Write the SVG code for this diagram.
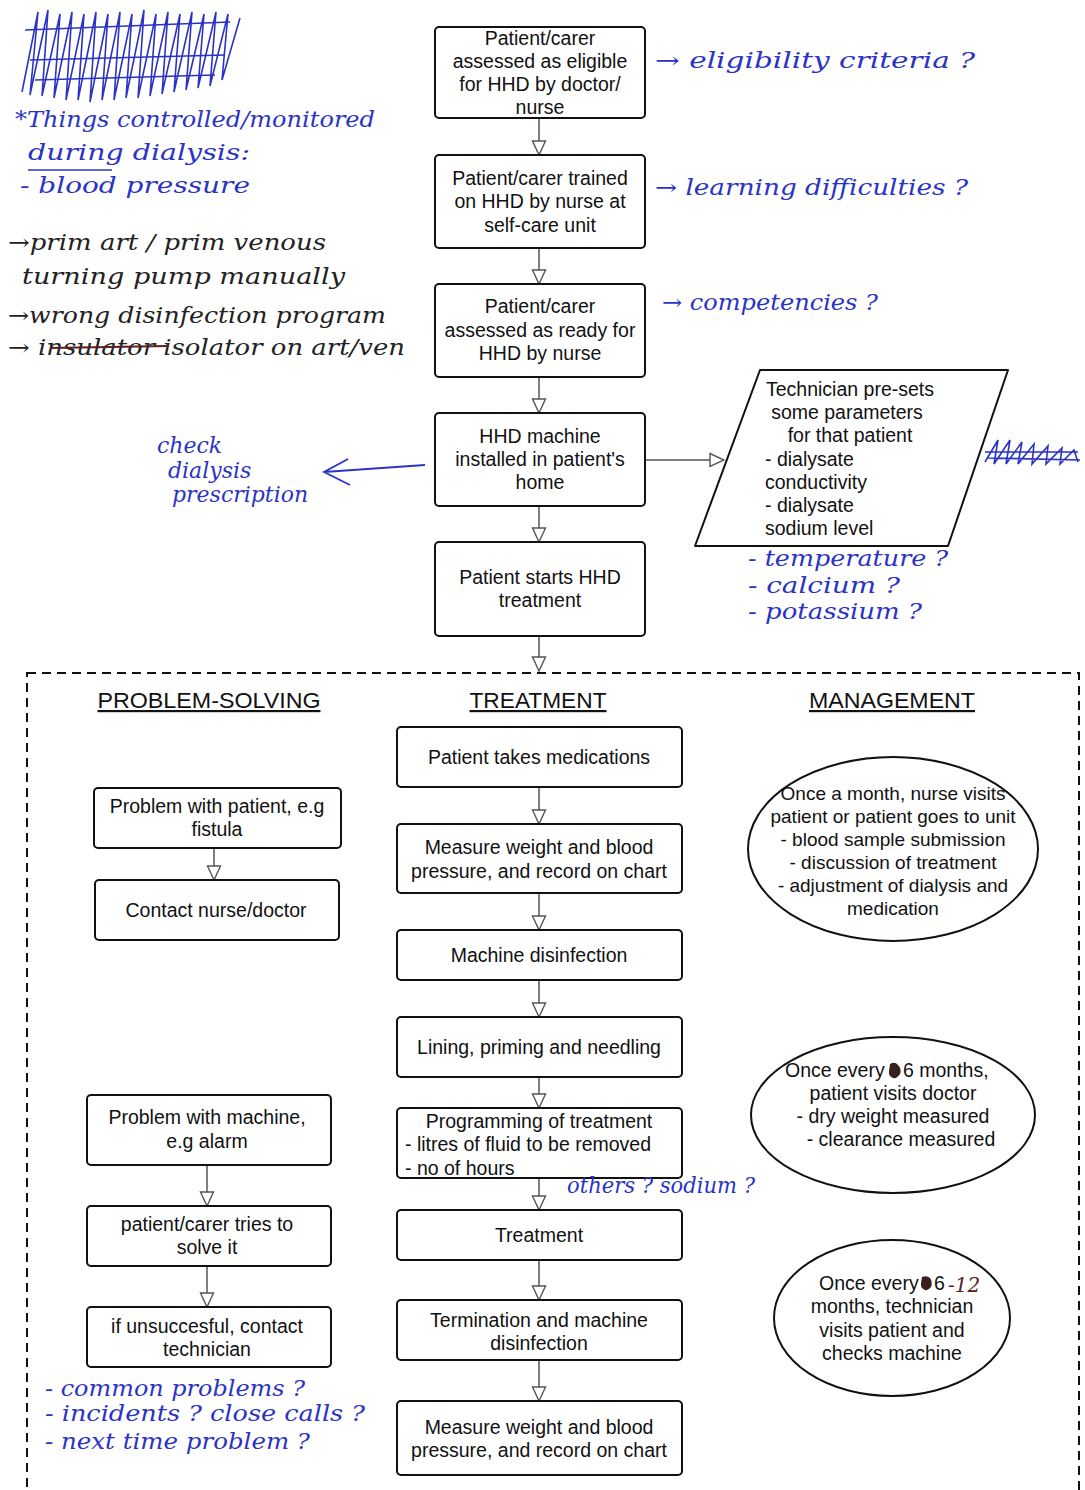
<svg xmlns="http://www.w3.org/2000/svg" width="1085" height="1490" viewBox="0 0 1085 1490">
<defs>
<marker id="tri" markerUnits="userSpaceOnUse" markerWidth="16" markerHeight="16" viewBox="0 0 16 16" refX="15" refY="8" orient="auto">
<path d="M1,1.5 L15,8 L1,14.5 z" fill="#fff" stroke="#555" stroke-width="1.4"/>
</marker>
<style>
.box{fill:#fff;stroke:#111;stroke-width:2}
.t{font-family:"Liberation Sans",Arial,sans-serif;font-size:19.5px;fill:#111;text-anchor:middle}
.tl{font-family:"Liberation Sans",Arial,sans-serif;font-size:19.5px;fill:#111}
.te{font-family:"Liberation Sans",Arial,sans-serif;font-size:19px;fill:#111;text-anchor:middle}
.hd{font-family:"Liberation Sans",Arial,sans-serif;font-size:22px;fill:#111;text-anchor:middle;text-decoration:underline}
.c{stroke:#555;stroke-width:1.5;fill:none;marker-end:url(#tri)}
.hw{font-family:"DejaVu Serif",serif;font-style:italic;font-size:22px;fill:#2b33c4}
.hk{font-family:"DejaVu Serif",serif;font-style:italic;font-size:22px;fill:#222}
.sc{fill:none;stroke:#2b33c4;stroke-width:1.6}
</style>
</defs>
<rect width="1085" height="1490" fill="#fff"/>

<!-- connectors -->
<g id="connectors">
<line class="c" x1="539" y1="118" x2="539" y2="155"/>
<line class="c" x1="539" y1="248" x2="539" y2="284"/>
<line class="c" x1="539" y1="377" x2="539" y2="413"/>
<line class="c" x1="539" y1="506" x2="539" y2="542"/>
<line class="c" x1="539" y1="636" x2="539" y2="671"/>
<line class="c" x1="645" y1="460" x2="724" y2="460"/>
<line class="c" x1="539" y1="787" x2="539" y2="824"/>
<line class="c" x1="539" y1="893" x2="539" y2="930"/>
<line class="c" x1="539" y1="980" x2="539" y2="1017"/>
<line class="c" x1="539" y1="1077" x2="539" y2="1108"/>
<line class="c" x1="539" y1="1178" x2="539" y2="1210"/>
<line class="c" x1="539" y1="1260" x2="539" y2="1300"/>
<line class="c" x1="539" y1="1360" x2="539" y2="1401"/>
<line class="c" x1="214" y1="848" x2="214" y2="880"/>
<line class="c" x1="207" y1="1165" x2="207" y2="1206"/>
<line class="c" x1="207" y1="1266" x2="207" y2="1307"/>
</g>

<!-- top flow -->
<g id="n1"><rect class="box" x="435" y="27" width="210" height="91" rx="4"/>
<text class="t" x="540" y="45">Patient/carer</text><text class="t" x="540" y="68">assessed as eligible</text><text class="t" x="540" y="91">for HHD by doctor/</text><text class="t" x="540" y="114">nurse</text></g>
<g id="n2"><rect class="box" x="435" y="155" width="210" height="93" rx="4"/>
<text class="t" x="540" y="185">Patient/carer trained</text><text class="t" x="540" y="208">on HHD by nurse at</text><text class="t" x="540" y="232">self-care unit</text></g>
<g id="n3"><rect class="box" x="435" y="284" width="210" height="93" rx="4"/>
<text class="t" x="540" y="313">Patient/carer</text><text class="t" x="540" y="337">assessed as ready for</text><text class="t" x="540" y="360">HHD by nurse</text></g>
<g id="n4"><rect class="box" x="435" y="413" width="210" height="93" rx="4"/>
<text class="t" x="540" y="443">HHD machine</text><text class="t" x="540" y="466">installed in patient's</text><text class="t" x="540" y="489">home</text></g>
<g id="n5"><rect class="box" x="435" y="542" width="210" height="94" rx="4"/>
<text class="t" x="540" y="584">Patient starts HHD</text><text class="t" x="540" y="607">treatment</text></g>
<g id="n6"><path class="box" d="M760,370 L1008,370 L948,546 L695,546 z" stroke-linejoin="round"/>
<text class="t" x="850" y="396">Technician pre-sets</text><text class="t" x="847" y="419">some parameters</text><text class="t" x="850" y="442">for that patient</text>
<text class="tl" x="765" y="466">- dialysate</text><text class="tl" x="765" y="489">conductivity</text><text class="tl" x="765" y="512">- dialysate</text><text class="tl" x="765" y="535">sodium level</text></g>

<!-- dashed frame -->
<g id="frame"><rect x="27" y="673" width="1052" height="840" fill="none" stroke="#111" stroke-width="2" stroke-dasharray="9 6"/>
<text class="hd" x="209" y="708" textLength="223" lengthAdjust="spacingAndGlyphs">PROBLEM-SOLVING</text>
<text class="hd" x="538" y="708" textLength="137" lengthAdjust="spacingAndGlyphs">TREATMENT</text>
<text class="hd" x="892" y="708" textLength="166" lengthAdjust="spacingAndGlyphs">MANAGEMENT</text></g>

<!-- treatment -->
<g id="t1"><rect class="box" x="397" y="727" width="285" height="60" rx="4"/><text class="t" x="539" y="764">Patient takes medications</text></g>
<g id="t2"><rect class="box" x="397" y="824" width="285" height="69" rx="4"/><text class="t" x="539" y="854">Measure weight and blood</text><text class="t" x="539" y="878">pressure, and record on chart</text></g>
<g id="t3"><rect class="box" x="397" y="930" width="285" height="50" rx="4"/><text class="t" x="539" y="962">Machine disinfection</text></g>
<g id="t4"><rect class="box" x="397" y="1017" width="285" height="60" rx="4"/><text class="t" x="539" y="1054">Lining, priming and needling</text></g>
<g id="t5"><rect class="box" x="397" y="1108" width="285" height="70" rx="4"/><text class="t" x="539" y="1128">Programming of treatment</text><text class="tl" x="405" y="1151">- litres of fluid to be removed</text><text class="tl" x="405" y="1175">- no of hours</text></g>
<g id="t6"><rect class="box" x="397" y="1210" width="285" height="50" rx="4"/><text class="t" x="539" y="1242">Treatment</text></g>
<g id="t7"><rect class="box" x="397" y="1300" width="285" height="60" rx="4"/><text class="t" x="539" y="1327">Termination and machine</text><text class="t" x="539" y="1350">disinfection</text></g>
<g id="t8"><rect class="box" x="397" y="1401" width="285" height="74" rx="4"/><text class="t" x="539" y="1434">Measure weight and blood</text><text class="t" x="539" y="1457">pressure, and record on chart</text></g>

<!-- problem solving -->
<g id="p1"><rect class="box" x="94" y="788" width="247" height="60" rx="4"/><text class="t" x="217" y="813">Problem with patient, e.g</text><text class="t" x="217" y="836">fistula</text></g>
<g id="p2"><rect class="box" x="95" y="880" width="244" height="60" rx="4"/><text class="t" x="216" y="917">Contact nurse/doctor</text></g>
<g id="p3"><rect class="box" x="87" y="1095" width="244" height="70" rx="4"/><text class="t" x="207" y="1124">Problem with machine,</text><text class="t" x="207" y="1148">e.g alarm</text></g>
<g id="p4"><rect class="box" x="87" y="1206" width="244" height="60" rx="4"/><text class="t" x="207" y="1231">patient/carer tries to</text><text class="t" x="207" y="1254">solve it</text></g>
<g id="p5"><rect class="box" x="87" y="1307" width="244" height="60" rx="4"/><text class="t" x="207" y="1333">if unsuccesful, contact</text><text class="t" x="207" y="1356">technician</text></g>

<!-- management -->
<g id="m1"><ellipse cx="893" cy="849" rx="145" ry="92" fill="#fff" stroke="#111" stroke-width="2"/>
<text class="te" x="893" y="800">Once a month, nurse visits</text><text class="te" x="893" y="823">patient or patient goes to unit</text><text class="te" x="893" y="846">- blood sample submission</text><text class="te" x="893" y="869">- discussion of treatment</text><text class="te" x="893" y="892">- adjustment of dialysis and</text><text class="te" x="893" y="915">medication</text></g>
<g id="m2"><ellipse cx="893" cy="1115" rx="142" ry="78" fill="#fff" stroke="#111" stroke-width="2"/>
<text class="tl" x="785" y="1077">Once every</text><text class="tl" x="903" y="1077">6 months,</text>
<path d="M890,1064 q5,-3 8,1 q4,4 2,9 q-3,5 -7,4 q-5,-2 -4,-7 z" fill="#3a1f1f"/>
<text class="t" x="893" y="1100">patient visits doctor</text><text class="t" x="893" y="1123">- dry weight measured</text><text class="t" x="901" y="1146">-  clearance measured</text></g>
<g id="m3"><ellipse cx="892" cy="1318" rx="118" ry="78" fill="#fff" stroke="#111" stroke-width="2"/>
<text class="tl" x="819" y="1290">Once every</text><text class="tl" x="934" y="1290">6</text>
<path d="M922,1277 q5,-2 8,1 q3,4 1,9 q-3,4 -6,3 q-5,-2 -4,-7 z" fill="#3a1f1f"/>
<text x="948" y="1292" font-family="DejaVu Serif,serif" font-style="italic" font-size="20" fill="#5a2020">-12</text>
<text class="t" x="892" y="1313">months, technician</text><text class="t" x="892" y="1337">visits patient and</text><text class="t" x="892" y="1360">checks machine</text></g>

<!-- handwritten annotations -->
<g id="annotations">
<path class="sc" d="M22,92 L38,12 L30,95 L48,10 L42,96 L60,14 L54,98 L72,12 L66,100 L84,14 L78,100 L96,12 L90,102 L108,14 L102,100 L120,12 L114,100 L132,14 L126,98 L144,10 L138,98 L156,14 L150,96 L168,12 L162,94 L180,14 L174,92 L192,12 L186,90 L204,14 L198,88 L216,12 L210,86 L228,14 L222,80 L240,18"/>
<path class="sc" d="M25,30 L230,22 M30,60 L225,55 M35,80 L215,75"/>
<text class="hw" x="15" y="127" textLength="360" lengthAdjust="spacingAndGlyphs">*Things controlled/monitored</text>
<text class="hw" x="28" y="160" textLength="222" lengthAdjust="spacingAndGlyphs">during dialysis:</text>
<line x1="28" y1="170" x2="112" y2="170" stroke="#2b33c4" stroke-width="1.6"/>
<text class="hw" x="20" y="193" textLength="230" lengthAdjust="spacingAndGlyphs">- blood pressure</text>
<text class="hk" x="8" y="250" textLength="318" lengthAdjust="spacingAndGlyphs">→prim art / prim venous</text>
<text class="hk" x="22" y="284" textLength="323" lengthAdjust="spacingAndGlyphs">turning pump manually</text>
<text class="hk" x="8" y="323" textLength="378" lengthAdjust="spacingAndGlyphs">→wrong disinfection program</text>
<text class="hk" x="8" y="355" textLength="397" lengthAdjust="spacingAndGlyphs">→ insulator isolator on art/ven</text>
<line x1="50" y1="348" x2="168" y2="346" stroke="#5a2020" stroke-width="1.8"/>
<text class="hw" x="655" y="68" textLength="320" lengthAdjust="spacingAndGlyphs">→ eligibility criteria ?</text>
<text class="hw" x="655" y="195" textLength="313" lengthAdjust="spacingAndGlyphs">→ learning difficulties ?</text>
<text class="hw" x="662" y="310" textLength="216" lengthAdjust="spacingAndGlyphs">→ competencies ?</text>
<text class="hw" x="157" y="453">check</text>
<text class="hw" x="168" y="478">dialysis</text>
<text class="hw" x="172" y="502">prescription</text>
<path d="M425,465 L324,472 M348,459 L324,472 L350,485" fill="none" stroke="#2b33c4" stroke-width="1.8"/>
<path class="sc" d="M985,462 L998,440 L994,464 L1010,440 L1006,464 L1022,442 L1018,464 L1034,444 L1032,464 L1048,446 L1046,464 L1062,448 L1060,464 L1074,450 L1078,462 M985,452 L1078,452 M988,458 L1080,460"/>
<text class="hw" x="748" y="566" textLength="200" lengthAdjust="spacingAndGlyphs">- temperature ?</text>
<text class="hw" x="748" y="593" textLength="152" lengthAdjust="spacingAndGlyphs">- calcium ?</text>
<text class="hw" x="748" y="619" textLength="174" lengthAdjust="spacingAndGlyphs">- potassium ?</text>
<text class="hw" x="567" y="1193" textLength="188" lengthAdjust="spacingAndGlyphs">others ? sodium ?</text>
<text class="hw" x="45" y="1396" textLength="260" lengthAdjust="spacingAndGlyphs">- common problems ?</text>
<text class="hw" x="45" y="1421" textLength="320" lengthAdjust="spacingAndGlyphs">- incidents ? close calls ?</text>
<text class="hw" x="45" y="1449" textLength="265" lengthAdjust="spacingAndGlyphs">- next time problem ?</text>
</g>
</svg>
